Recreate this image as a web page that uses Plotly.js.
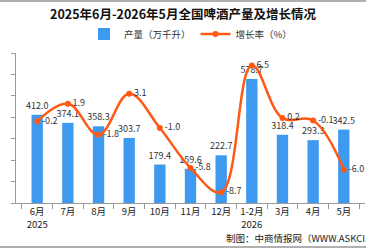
<!DOCTYPE html>
<html><head><meta charset="utf-8">
<script src="https://cdn.plot.ly/plotly-3.0.1.min.js"></script>
<style>
html,body{margin:0;padding:0;width:366px;height:248px;overflow:hidden;background:#fff;}
#chart{width:366px;height:248px;}
.ln{position:absolute;left:0;width:366px;height:2px;background:#b0b0b0;}
</style></head><body>
<div id="chart"></div>
<div class="ln" style="top:0"></div>
<div class="ln" style="top:246px"></div>
<script>
const categories = ['6月<br>2025','7月','8月','9月','10月','11月','12月','1-2月<br>2026','3月','4月','5月'];
const production = [412.0, 374.1, 358.3, 303.7, 179.4, 159.6, 222.7, 578.7, 318.4, 293.3, 342.5];
const growth = [-0.2, 1.9, -1.8, 3.1, -1.0, -5.8, -8.7, 6.5, 0.2, -0.1, -6.0];
const yTicks = [0,100,200,300,400,500,600,700];

const F = '"Noto Sans CJK SC", "Noto Sans", sans-serif';
const bars = {
  type:'bar', name:'产量（万千升）', x:categories, y:production,
  marker:{color:'#3E9AF0'}, width:0.37,
  text:production.map(v=>v.toFixed(1)), textposition:'outside', constraintext:'none',
  textfont:{size:9,color:'#333', family:F}, cliponaxis:false
};
const line = {
  type:'scatter', mode:'lines+markers+text', name:'增长率（%）', x:categories, y:growth, yaxis:'y2',
  line:{color:'#FF5A14', width:2.5, shape:'spline', smoothing:1.1},
  marker:{color:'#FF5A14', size:6},
  text:growth.map(v=>v.toFixed(1)), textposition:'middle right',
  textfont:{size:9,color:'#333', family:F}, cliponaxis:false
};
const layout = {
  width:366, height:248,
  margin:{l:16, r:1, t:53, b:45},
  paper_bgcolor:'#fff', plot_bgcolor:'#fff',
  font:{family:F, size:9, color:'#333'},
  title:{text:'<b>2025年6月-2026年5月全国啤酒产量及增长情况</b>', font:{size:12.5, color:'#111', family:F},
    x:0.5, xanchor:'center', y:1-15/248, yanchor:'middle', yref:'container'},
  showlegend:true,
  legend:{orientation:'h', x:0.5, xanchor:'center', y:1-34/248, yanchor:'middle', yref:'container',
    font:{size:9.5, color:'#333', family:F}, itemwidth:30, tracegroupgap:0},
  bargap:0.6,
  xaxis:{type:'category', showline:true, linecolor:'#999', linewidth:1, ticks:'outside', tickson:'boundaries',
    ticklen:5, tickcolor:'#999', tickangle:0, tickfont:{size:9.5, color:'#222', family:F}, showgrid:false, fixedrange:true},
  yaxis:{range:[0,700], tickvals:yTicks, showline:true, linecolor:'#999', linewidth:1, ticks:'outside', ticklen:4,
    tickcolor:'#999', showgrid:false, zeroline:false, tickfont:{size:9.5,color:'#222'}, ticklabelstandoff:10},
  yaxis2:{range:[-10,8], overlaying:'y', side:'right', visible:false, showgrid:false, zeroline:false},
  annotations:[{text:'制图：中商情报网（WWW.ASKCI.COM）', xref:'paper', yref:'paper', x:(224-16)/349, y:(203-238)/150,
    xanchor:'left', yanchor:'middle', showarrow:false, font:{size:9.5, color:'#222', family:F}}]
};
Plotly.newPlot('chart', [bars, line], layout, {displayModeBar:false, staticPlot:true});
</script>
</body></html>
